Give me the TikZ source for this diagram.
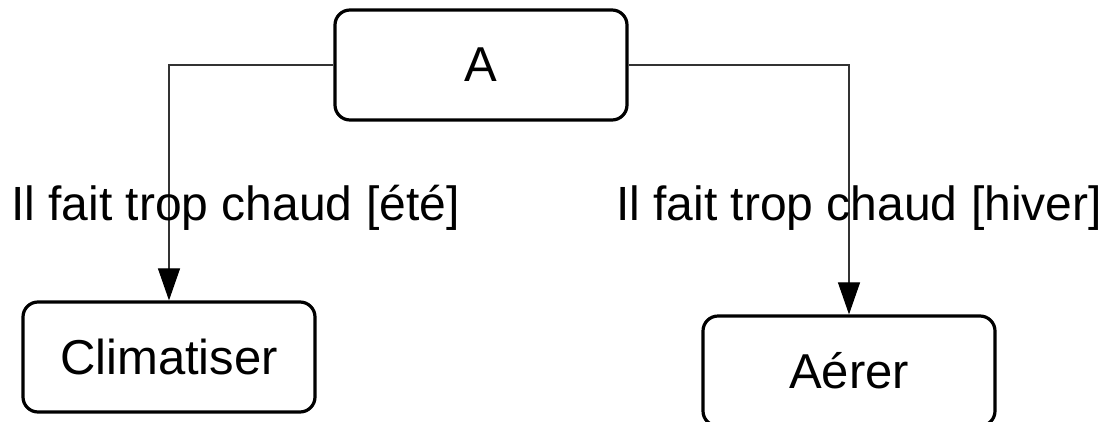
\documentclass[tikz,border=0pt]{standalone}
\usepackage{fontspec}
\setmainfont{Liberation Sans}
\usetikzlibrary{arrows.meta}
\tikzset{
  statebox/.style={draw=black, line width=3.2pt, rounded corners=15pt, minimum width=292pt, minimum height=110pt, inner sep=0pt, font=\fontsize{49}{58}\selectfont},
  conn/.style={draw=black!80, line width=1.1pt, -{Triangle[length=32pt,width=22pt,color=black]}},
  lbl/.style={inner sep=0pt, anchor=base west, font=\fontsize{48}{58}\selectfont}
}
\begin{document}
\begin{tikzpicture}[x=1pt,y=-1pt]
\useasboundingbox (0,0) rectangle (1103,421);
\clip (0,0) rectangle (1103,421);
\node[statebox] (A) at (481,65) {A};
\node[statebox] (C) at (169,357) {Climatiser};
\node[statebox] (R) at (849,371) {Aérer};
\draw[conn] (A.west) -| (C.north);
\draw[conn] (A.east) -| (R.north);
\node[lbl] (l1) at (11,220) {Il fait trop chaud [été]};
\node[lbl] (l2) at (616,220) {Il fait trop chaud [hiver]};
\end{tikzpicture}
\end{document}
